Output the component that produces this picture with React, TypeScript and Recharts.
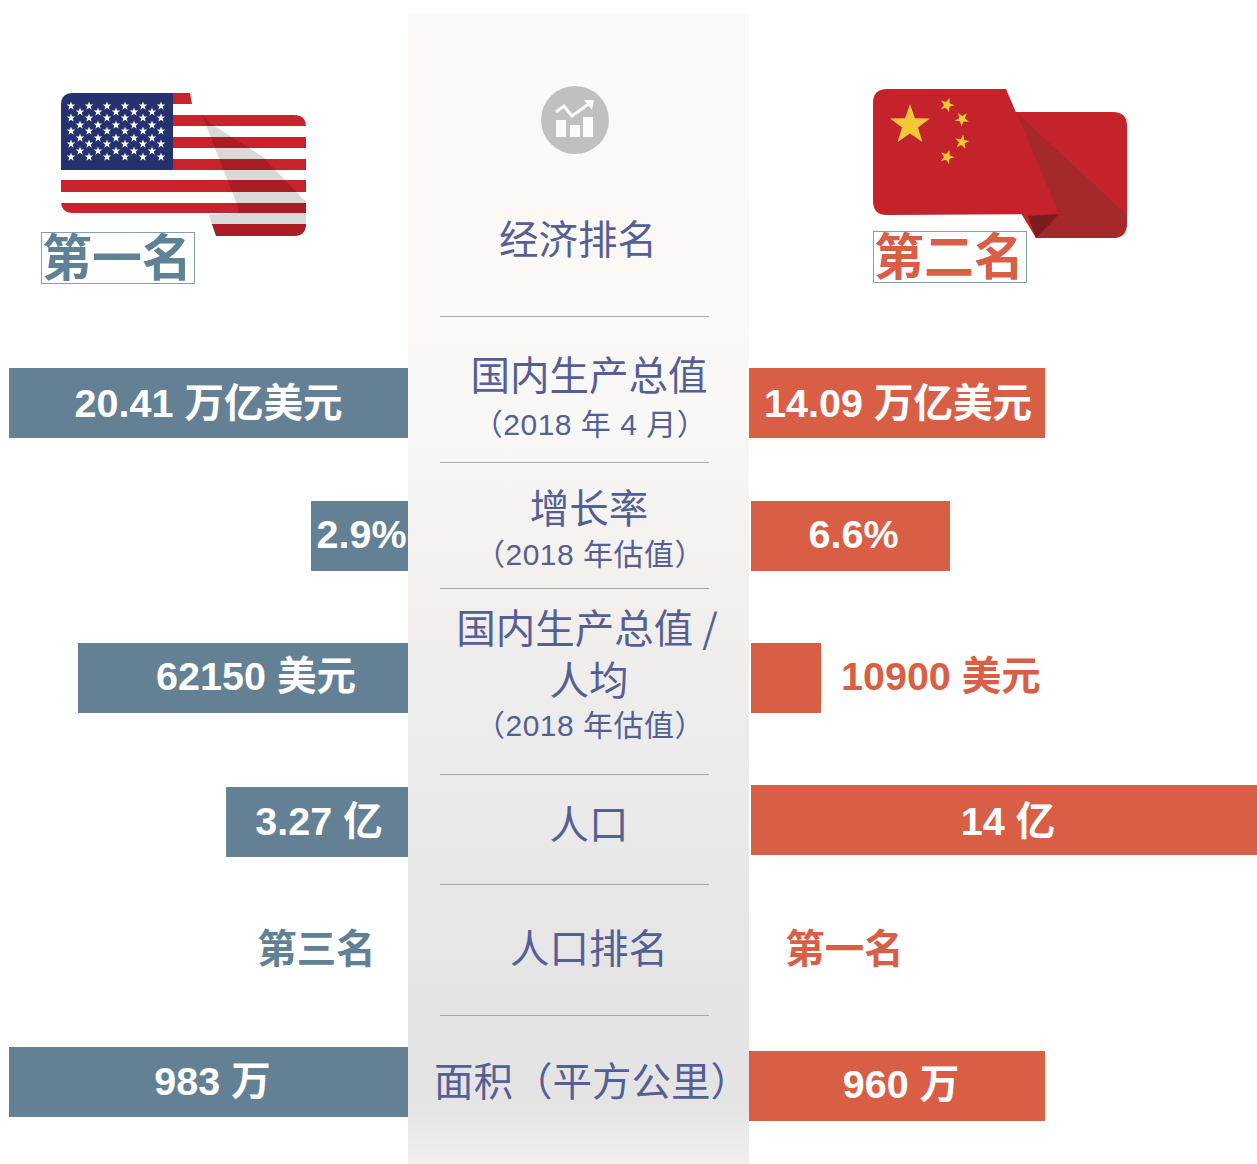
import { BarChart, Bar, XAxis, YAxis, LabelList } from "recharts";

const metricNames = ["GDP", "growth", "GDP per capita", "population", "area"];
const usValues = [20.41, 2.9, 62150, 3.27, 983];
const chinaValues = [14.09, 6.6, 10900, 14, 960];
const usLabels = ["20.41 万亿美元", "2.9%", "62150 美元", "3.27 亿", "983 万"];
const chinaLabels = ["14.09 万亿美元", "6.6%", "10900 美元", "14 亿", "960 万"];
// the picture is not to one scale, every row has its own axis per side
const usAxisMax = [20.46, 11.96, 75333, 7.19, 985.5];
const chinaAxisMax = [24.18, 16.78, 78790, 14, 1647.6];

const BLUE = "#648094";
const ORANGE = "#d95e46";
const CENTER_TEXT = "#555f96";
const FONT = '"Liberation Sans", "Noto Sans CJK SC", sans-serif';
const CJK = '"Noto Sans CJK SC", sans-serif';

const usRows = [
  { top: 368, labelDx: 0, labelDy: 0 },
  { top: 501, labelDx: 2, labelDy: -2 },
  { top: 643, labelDx: 13, labelDy: -2 },
  { top: 787, labelDx: 2, labelDy: -1 },
  { top: 1047, labelDx: 4, labelDy: -1 },
];
const chinaRows = [
  { top: 368, left: 749, labelDx: 1, labelDy: 0 },
  { top: 501, left: 751, labelDx: 3, labelDy: -2 },
  { top: 643, left: 751, labelDx: 0, labelDy: -2, outside: true },
  { top: 785, left: 751, labelDx: 4, labelDy: 1 },
  { top: 1051, left: 749, labelDx: 4, labelDy: -2 },
];

const dividers = [317, 463, 589, 775, 885, 1016];

function star(cx: number, cy: number, r: number, rot = 0) {
  const pts: string[] = [];
  for (let i = 0; i < 10; i++) {
    const rad = i % 2 === 0 ? r : r * 0.4;
    const a = ((-90 + i * 36 + rot) * Math.PI) / 180;
    pts.push(`${cx + rad * Math.cos(a)},${cy + rad * Math.sin(a)}`);
  }
  return pts.join(" ");
}

function RowBar(props: {
  name: string;
  value: number;
  label: string;
  max: number;
  fill: string;
  top: number;
  left: number;
  width: number;
  reversed?: boolean;
  labelDx: number;
  labelDy: number;
  outside?: boolean;
}) {
  const { name, value, label, max, fill, top, left, width, reversed, labelDx, labelDy, outside } = props;
  const renderLabel = (p: any) => {
    const w = Math.abs(Number(p.width));
    const x0 = Math.min(Number(p.x), Number(p.x) + Number(p.width));
    return (
      <text
        x={outside ? x0 + w + 20 : x0 + w / 2 + labelDx}
        y={Number(p.y) + Number(p.height) / 2 + labelDy}
        fill={outside ? ORANGE : "#fff"}
        textAnchor={outside ? "start" : "middle"}
        dominantBaseline="central"
        style={{ fontFamily: FONT, fontWeight: 700, fontSize: 39.5 }}
      >
        {p.value}
      </text>
    );
  };
  return (
    <div style={{ position: "absolute", top, left }}>
      <BarChart
        width={width}
        height={70}
        layout="vertical"
        data={[{ name, value, label }]}
        margin={{ top: 0, right: 0, bottom: 0, left: 0 }}
        barCategoryGap={0}
        style={{ overflow: "visible" }}
      >
        <XAxis type="number" hide domain={[0, max]} reversed={reversed} allowDataOverflow />
        <YAxis type="category" dataKey="name" hide />
        <Bar dataKey="value" fill={fill} isAnimationActive={false}>
          <LabelList dataKey="label" content={renderLabel} />
        </Bar>
      </BarChart>
    </div>
  );
}

function CenterText(p: { x?: number; y: number; size?: number; children: any }) {
  return (
    <text
      x={p.x ?? 589}
      y={p.y - 3}
      textAnchor="middle"
      dominantBaseline="central"
      fill={CENTER_TEXT}
      style={{ fontFamily: CJK, fontSize: p.size ?? 39.5 }}
    >
      {p.children}
    </text>
  );
}

function SubText(p: { y: number; children: string }) {
  return (
    <text
      x={590}
      y={p.y}
      textAnchor="middle"
      dominantBaseline="central"
      fill={CENTER_TEXT}
      style={{ fontFamily: FONT, fontSize: 30, letterSpacing: 0.5 }}
    >
      {p.children}
    </text>
  );
}

function UsFlag() {
  const reds = [
    [115, 11],
    [137, 11],
    [159, 11],
    [180, 12],
    [203, 10],
    [224, 12],
  ];
  const longRows = [106, 118, 131, 144, 157];
  const shortRows = [112, 125, 138, 151];
  return (
    <g>
      <clipPath id="usClip">
        <path d="M73,93 L190,93 L194,115 L294,115 Q306,115 306,127 L306,224 Q306,236 294,236 L216,236 L208,213 L73,213 Q61,213 61,201 L61,105 Q61,93 73,93 Z" />
      </clipPath>
      <g clipPath="url(#usClip)">
        <rect x={61} y={93} width={245} height={143} fill="#fff" />
        {reds.map(([y, h]) => (
          <rect key={y} x={61} y={y} width={245} height={h} fill="#c8232c" />
        ))}
        <rect x={173} y={93} width={25} height={11} fill="#c8232c" />
        <rect x={61} y={93} width={112} height={77} fill="#26326e" />
        <polygon points="202,115 210,123 263,157 306,202 306,236 216,236 208,215 238,213 238,207" fill="#000" opacity={0.15} />
        <rect x={173} y={104} width={25} height={11} fill="#fff" />
      </g>
      {longRows.map((y) =>
        [71, 89, 107, 125, 143, 161].map((x) => <polygon key={`${x}-${y}`} points={star(x, y, 4.5)} fill="#fff" />)
      )}
      {shortRows.map((y) =>
        [80, 98, 116, 134, 152].map((x) => <polygon key={`${x}-${y}`} points={star(x, y, 4.5)} fill="#fff" />)
      )}
    </g>
  );
}

function ChinaFlag() {
  return (
    <g>
      <path d="M1013,112 L1113,112 Q1127,112 1127,126 L1127,224 Q1127,238 1113,238 L1036,238 L1013,200 Z" fill="#c4232c" />
      <polygon points="1017,113 1127,215 1127,226 1116,238 1036,238 1028,216 1059,214" fill="#a5282b" />
      <polygon points="1028,216 1059,214 1036,238" fill="#7d1c1f" />
      <path d="M887,89 L1006,89 L1059,214 L887,215 Q873,215 873,201 L873,103 Q873,89 887,89 Z" fill="#c4232c" />
      <polygon points={star(910, 125, 21)} fill="#f2c835" />
      <polygon points={star(947, 105, 7.5, 20)} fill="#f2c835" />
      <polygon points={star(962, 119, 7.5, 40)} fill="#f2c835" />
      <polygon points={star(962, 142, 7.5, 10)} fill="#f2c835" />
      <polygon points={star(947, 157, 7.5, 20)} fill="#f2c835" />
    </g>
  );
}

function Backdrop() {
  return (
    <svg width={1257} height={1164} style={{ position: "absolute", top: 0, left: 0 }}>
      <defs>
        <linearGradient id="panel" x1="0" y1="0" x2="0" y2="1">
          <stop offset="0" stopColor="#fbf9f7" />
          <stop offset="0.27" stopColor="#fbf8f6" />
          <stop offset="0.36" stopColor="#f8f8f6" />
          <stop offset="0.5" stopColor="#f3efed" />
          <stop offset="0.63" stopColor="#ececec" />
          <stop offset="0.85" stopColor="#e4e4e4" />
          <stop offset="0.95" stopColor="#e4e4e4" />
          <stop offset="1" stopColor="#f0f0f0" />
        </linearGradient>
      </defs>
      <rect x={408} y={13} width={341} height={1151} fill="url(#panel)" />

      <UsFlag />
      <ChinaFlag />

      <rect x={41.5} y={232.5} width={153} height={51} fill="none" stroke="#7fa0b5" />
      <rect x={873.5} y={231.5} width={153} height={51} fill="none" stroke="#7fa0b5" />
      <text x={117} y={254} textAnchor="middle" dominantBaseline="central" fill="#5f8195" style={{ fontFamily: CJK, fontWeight: 700, fontSize: 50 }}>
        第一名
      </text>
      <text x={949} y={253} textAnchor="middle" dominantBaseline="central" fill={ORANGE} style={{ fontFamily: CJK, fontWeight: 700, fontSize: 50 }}>
        第二名
      </text>

      <circle cx={575} cy={120} r={34} fill="#c0c0c0" />
      <polyline points="556,112 564,106 572,116 590,103" fill="none" stroke="#fafafa" strokeWidth={3} />
      <polygon points="584,100 594,100 592,110" fill="#fafafa" />
      <rect x={556} y={120} width={10} height={17} fill="#fafafa" />
      <rect x={570} y={125} width={10} height={12} fill="#fafafa" />
      <rect x={583} y={117} width={10} height={20} fill="#fafafa" />

      {dividers.map((y) => (
        <line key={y} x1={440} x2={709} y1={y - 0.5} y2={y - 0.5} stroke="#a8a8a8" />
      ))}

      <CenterText x={578} y={239} size={39.5}>经济排名</CenterText>
      <CenterText y={375}>国内生产总值</CenterText>
      <SubText y={424}>（2018 年 4 月）</SubText>
      <CenterText y={508}>增长率</CenterText>
      <SubText y={554}>（2018 年估值）</SubText>
      <CenterText x={587} y={628}>国内生产总值 /</CenterText>
      <CenterText y={680}>人均</CenterText>
      <SubText y={725}>（2018 年估值）</SubText>
      <CenterText y={824}>人口</CenterText>
      <CenterText y={948}>人口排名</CenterText>
      <CenterText x={592} y={1081}>面积（平方公里）</CenterText>

      <text x={316.5} y={945} textAnchor="middle" dominantBaseline="central" fill="#5f8195" style={{ fontFamily: CJK, fontWeight: 700, fontSize: 39.5 }}>
        第三名
      </text>
      <text x={844.5} y={945} textAnchor="middle" dominantBaseline="central" fill={ORANGE} style={{ fontFamily: CJK, fontWeight: 700, fontSize: 39.5 }}>
        第一名
      </text>
    </svg>
  );
}

export default function App() {
  return (
    <div style={{ position: "absolute", top: 0, left: 0, width: 1257, height: 1164, overflow: "hidden", background: "#fff" }}>
      <Backdrop />
      {metricNames.map((name, i) => (
        <RowBar
          key={`us-${name}`}
          name={name}
          value={usValues[i]}
          label={usLabels[i]}
          max={usAxisMax[i]}
          fill={BLUE}
          top={usRows[i].top}
          left={8}
          width={400}
          reversed
          labelDx={usRows[i].labelDx}
          labelDy={usRows[i].labelDy}
        />
      ))}
      {metricNames.map((name, i) => (
        <RowBar
          key={`cn-${name}`}
          name={name}
          value={chinaValues[i]}
          label={chinaLabels[i]}
          max={chinaAxisMax[i]}
          fill={ORANGE}
          top={chinaRows[i].top}
          left={chinaRows[i].left}
          width={1257 - chinaRows[i].left}
          labelDx={chinaRows[i].labelDx}
          labelDy={chinaRows[i].labelDy}
          outside={chinaRows[i].outside}
        />
      ))}
    </div>
  );
}
